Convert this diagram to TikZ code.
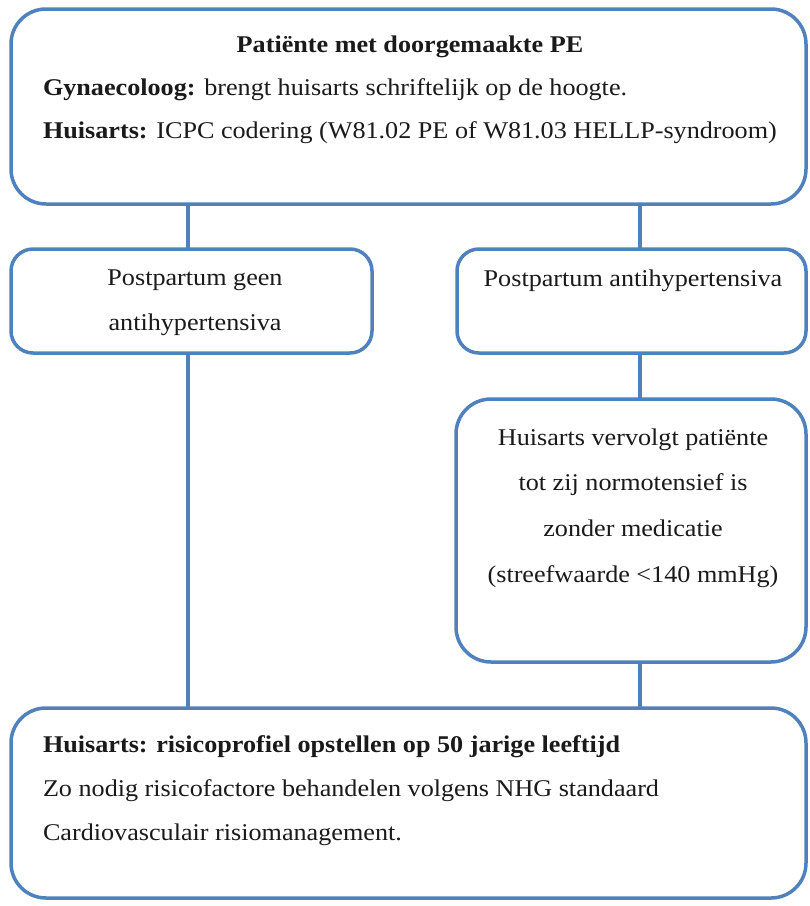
\documentclass[tikz,border=0pt]{standalone}
\usepackage{fontspec}
\setmainfont{Liberation Serif}[FakeStretch=1.09]
\definecolor{boxblue}{HTML}{4F81BD}
\definecolor{txt}{HTML}{1A1A1A}
\tikzset{
  box/.style={draw=boxblue, line width=3.5pt, fill=white, inner sep=0pt, outer sep=0pt},
  link/.style={draw=boxblue, line width=3.5pt},
  lbl/.style={inner sep=0pt, outer sep=0pt, text=txt, font=\fontsize{24}{28}\selectfont},
}
\begin{document}
\begin{tikzpicture}[x=1pt,y=-1pt]
\useasboundingbox (0,0) rectangle (810,906);
\fill[white] (0,0) rectangle (810,906);
% connectors (behind boxes)
\node[box, minimum width=795pt, minimum height=195pt, rounded corners=35pt] (top) at (408.5,106.5) {};
\node[box, minimum width=361pt, minimum height=104pt, rounded corners=22pt] (left) at (191.5,301) {};
\node[box, minimum width=349pt, minimum height=104pt, rounded corners=22pt] (right) at (631.5,301) {};
\node[box, minimum width=350pt, minimum height=263pt, rounded corners=35pt] (mid) at (631,530.5) {};
\node[box, minimum width=795pt, minimum height=190pt, rounded corners=35pt] (bot) at (408.5,803) {};
\coordinate (lx) at (188,0);
\coordinate (rx) at (640,0);
\draw[link] (top.south -| lx) -- (left.north -| lx);
\draw[link] (top.south -| rx) -- (right.north -| rx);
\draw[link] (right.south -| rx) -- (mid.north -| rx);
\draw[link] (mid.south -| rx) -- (bot.north -| rx);
\draw[link] (left.south -| lx) -- (bot.north -| lx);
% texts
\node[lbl, anchor=base] (t1) at (410,52) {\textbf{Patiënte met doorgemaakte PE}};
\node[lbl, anchor=base west] (t2) at (43,95) {\textbf{Gynaecoloog:} brengt huisarts schriftelijk op de hoogte.};
\node[lbl, anchor=base west] (t3) at (43,138) {\textbf{Huisarts:} ICPC codering (W81.02 PE of W81.03 HELLP-syndroom)};
\node[lbl, anchor=base] (l1) at (195,285) {Postpartum geen};
\node[lbl, anchor=base] (l2) at (195,330) {antihypertensiva};
\node[lbl, anchor=base] (r1) at (633,286) {Postpartum antihypertensiva};
\node[lbl, anchor=base] (m1) at (633,445) {Huisarts vervolgt patiënte};
\node[lbl, anchor=base] (m2) at (633,490) {tot zij normotensief is};
\node[lbl, anchor=base] (m3) at (633,536) {zonder medicatie};
\node[lbl, anchor=base] (m4) at (633,582) {(streefwaarde <140 mmHg)};
\node[lbl, anchor=base west] (b1) at (43,752) {\textbf{Huisarts: risicoprofiel opstellen op 50 jarige leeftijd}};
\node[lbl, anchor=base west] (b2) at (43,796) {Zo nodig risicofactore behandelen volgens NHG standaard};
\node[lbl, anchor=base west] (b3) at (43,840) {Cardiovasculair risiomanagement.};
\end{tikzpicture}
\end{document}
